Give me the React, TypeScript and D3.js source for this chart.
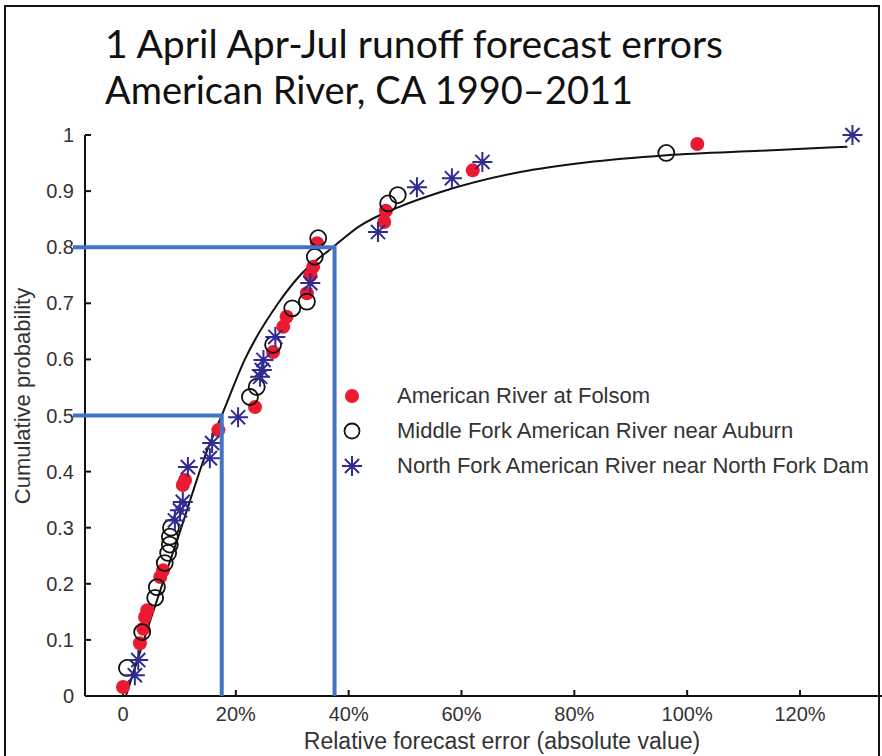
import React, { useEffect, useRef } from "react";
import * as d3 from "d3";

// relative error (fraction), cumulative probability
const folsom: [number, number][] = [
  [0.0, 0.016], [0.03, 0.094], [0.036, 0.12], [0.039, 0.141], [0.043, 0.153],
  [0.066, 0.212], [0.071, 0.224], [0.106, 0.376], [0.11, 0.385], [0.169, 0.474],
  [0.234, 0.515], [0.266, 0.613], [0.284, 0.658], [0.29, 0.676], [0.326, 0.718],
  [0.332, 0.75], [0.337, 0.765], [0.344, 0.807], [0.463, 0.845], [0.466, 0.865],
  [0.62, 0.937], [1.018, 0.984],
];

const middleFork: [number, number][] = [
  [0.007, 0.05], [0.034, 0.114], [0.057, 0.175], [0.06, 0.194], [0.074, 0.237],
  [0.08, 0.255], [0.083, 0.27], [0.083, 0.284], [0.085, 0.3], [0.225, 0.533],
  [0.237, 0.551], [0.266, 0.626], [0.3, 0.691], [0.326, 0.703], [0.34, 0.783],
  [0.346, 0.816], [0.47, 0.878], [0.487, 0.893], [0.963, 0.968],
];

const northFork: [number, number][] = [
  [0.021, 0.037], [0.027, 0.064], [0.092, 0.313], [0.101, 0.331], [0.106, 0.346],
  [0.115, 0.408], [0.154, 0.424], [0.158, 0.451], [0.204, 0.497], [0.243, 0.569],
  [0.246, 0.581], [0.249, 0.599], [0.27, 0.64], [0.332, 0.736], [0.452, 0.827],
  [0.521, 0.907], [0.583, 0.923], [0.637, 0.952], [1.293, 1.0],
];

// fitted curve
const fitCurve: [number, number][] = [
  [0.005, 0], [0.05, 0.14], [0.1, 0.29], [0.15, 0.44], [0.175, 0.5],
  [0.216, 0.6], [0.275, 0.7], [0.314, 0.75], [0.372, 0.8], [0.42, 0.838],
  [0.49, 0.872], [0.562, 0.898], [0.704, 0.934], [0.82, 0.951], [0.964, 0.964],
  [1.13, 0.972], [1.284, 0.979],
];

// blue guide lines: [error, probability]
const guides: [number, number][] = [
  [0.175, 0.5],
  [0.375, 0.8],
];

const xTicks = [0, 0.2, 0.4, 0.6, 0.8, 1.0, 1.2];
const xTickLabels = ["0", "20%", "40%", "60%", "80%", "100%", "120%"];
const yTicks = [0, 0.1, 0.2, 0.3, 0.4, 0.5, 0.6, 0.7, 0.8, 0.9, 1];
const yTickLabels = ["0", "0.1", "0.2", "0.3", "0.4", "0.5", "0.6", "0.7", "0.8", "0.9", "1"];
const legendLabels = [
  "American River at Folsom",
  "Middle Fork American River near Auburn",
  "North Fork American River near North Fork Dam",
];
const titleLines = ["1 April Apr-Jul runoff forecast errors", "American River, CA 1990\u20132011"];

const RED = "#ec1a30";
const STAR = "#2f2b93";
const BLUE = "#4472c4";

function starPath(r: number) {
  const d = r * 0.707;
  return `M${-r},0L${r},0M0,${-r}L0,${r}M${-d},${-d}L${d},${d}M${-d},${d}L${d},${-d}`;
}

export default function App() {
  const ref = useRef<SVGSVGElement>(null);

  useEffect(() => {
    const width = 882;
    const height = 756;
    const svg = d3.select(ref.current);
    svg.selectAll("*").remove();

    svg.append("rect").attr("width", width).attr("height", height).attr("fill", "#fff");

    // frame
    svg.append("rect")
      .attr("x", 5).attr("y", 6)
      .attr("width", 874).attr("height", 800)
      .attr("fill", "none").attr("stroke", "#111").attr("stroke-width", 2);

    // title
    const tl = [618, 528];
    svg.selectAll("text.title")
      .data(titleLines)
      .enter()
      .append("text")
      .attr("class", "title")
      .attr("x", 105)
      .attr("y", (d, i) => 58 + i * 46)
      .attr("font-family", "Lato, 'Open Sans', sans-serif")
      .attr("font-size", 38)
      .attr("fill", "#111")
      .attr("textLength", (d, i) => tl[i])
      .attr("lengthAdjust", "spacingAndGlyphs")
      .text((d) => d);

    const x = d3.scaleLinear().domain([0, 1.2]).range([123, 800]);
    const y = d3.scaleLinear().domain([0, 1]).range([696, 135]);
    const font = "'Liberation Sans', Arial, sans-serif";
    const axisColor = "#111";
    const labelColor = "#333";

    // y axis
    svg.append("line")
      .attr("x1", 85).attr("x2", 85)
      .attr("y1", y(1)).attr("y2", y(0))
      .attr("stroke", axisColor).attr("stroke-width", 2);
    svg.selectAll("line.ytick")
      .data(yTicks)
      .enter()
      .append("line")
      .attr("class", "ytick")
      .attr("x1", 85).attr("x2", 91)
      .attr("y1", (d) => y(d)).attr("y2", (d) => y(d))
      .attr("stroke", axisColor).attr("stroke-width", 2);
    svg.selectAll("text.ylab")
      .data(yTicks)
      .enter()
      .append("text")
      .attr("class", "ylab")
      .attr("x", 74)
      .attr("y", (d) => y(d) + 7)
      .attr("text-anchor", "end")
      .attr("font-family", font)
      .attr("font-size", 20)
      .attr("fill", labelColor)
      .text((d, i) => yTickLabels[i]);

    svg.append("text")
      .attr("transform", `translate(30,396) rotate(-90)`)
      .attr("text-anchor", "middle")
      .attr("font-family", font)
      .attr("font-size", 22)
      .attr("fill", labelColor)
      .text("Cumulative probability");

    // x axis
    svg.append("line")
      .attr("x1", 85).attr("x2", width)
      .attr("y1", y(0)).attr("y2", y(0))
      .attr("stroke", axisColor).attr("stroke-width", 2);
    svg.selectAll("line.xtick")
      .data(xTicks)
      .enter()
      .append("line")
      .attr("class", "xtick")
      .attr("x1", (d) => x(d)).attr("x2", (d) => x(d))
      .attr("y1", y(0)).attr("y2", y(0) - 6)
      .attr("stroke", axisColor).attr("stroke-width", 2);
    svg.selectAll("text.xlab")
      .data(xTicks)
      .enter()
      .append("text")
      .attr("class", "xlab")
      .attr("x", (d) => x(d))
      .attr("y", 721)
      .attr("text-anchor", "middle")
      .attr("font-family", font)
      .attr("font-size", 20)
      .attr("fill", labelColor)
      .text((d, i) => xTickLabels[i]);

    svg.append("text")
      .attr("x", 502)
      .attr("y", 749)
      .attr("text-anchor", "middle")
      .attr("font-family", font)
      .attr("font-size", 23)
      .attr("fill", labelColor)
      .text("Relative forecast error (absolute value)");

    // fitted curve
    const line = d3.line<[number, number]>()
      .x((d) => x(d[0]))
      .y((d) => y(d[1]))
      .curve(d3.curveMonotoneX);
    svg.append("path")
      .datum(fitCurve)
      .attr("d", line)
      .attr("fill", "none")
      .attr("stroke", "#111")
      .attr("stroke-width", 2);

    // points
    svg.selectAll("circle.folsom")
      .data(folsom)
      .enter()
      .append("circle")
      .attr("class", "folsom")
      .attr("cx", (d) => x(d[0]))
      .attr("cy", (d) => y(d[1]))
      .attr("r", 7)
      .attr("fill", RED);

    svg.selectAll("circle.middle")
      .data(middleFork)
      .enter()
      .append("circle")
      .attr("class", "middle")
      .attr("cx", (d) => x(d[0]))
      .attr("cy", (d) => y(d[1]))
      .attr("r", 8)
      .attr("fill", "none")
      .attr("stroke", "#111")
      .attr("stroke-width", 1.8);

    svg.selectAll("path.north")
      .data(northFork)
      .enter()
      .append("path")
      .attr("class", "north")
      .attr("transform", (d) => `translate(${x(d[0])},${y(d[1])})`)
      .attr("d", starPath(10))
      .attr("stroke", STAR)
      .attr("stroke-width", 2);

    // blue guide lines
    const g = svg.append("g")
      .attr("fill", "none")
      .attr("stroke", BLUE)
      .attr("stroke-width", 4);
    guides.forEach(([gx, gp]) => {
      g.append("path")
        .attr("d", `M73,${y(gp)}L${x(gx)},${y(gp)}L${x(gx)},${y(0)}`);
    });

    // legend
    const leg = svg.append("g").attr("transform", "translate(352,396)");
    legendLabels.forEach((lab, i) => {
      const row = leg.append("g").attr("transform", `translate(0,${i * 35})`);
      if (i === 0) row.append("circle").attr("r", 7).attr("fill", RED);
      if (i === 1)
        row.append("circle").attr("r", 7.5).attr("fill", "none")
          .attr("stroke", "#111").attr("stroke-width", 1.8);
      if (i === 2)
        row.append("path").attr("d", starPath(10)).attr("stroke", STAR).attr("stroke-width", 2);
      row.append("text")
        .attr("x", 45)
        .attr("y", 7)
        .attr("font-family", font)
        .attr("font-size", 22)
        .attr("fill", labelColor)
        .text(lab);
    });
  }, []);

  return (
    <svg
      ref={ref}
      width={882}
      height={756}
      style={{ position: "absolute", left: 0, top: 0, display: "block" }}
    />
  );
}
